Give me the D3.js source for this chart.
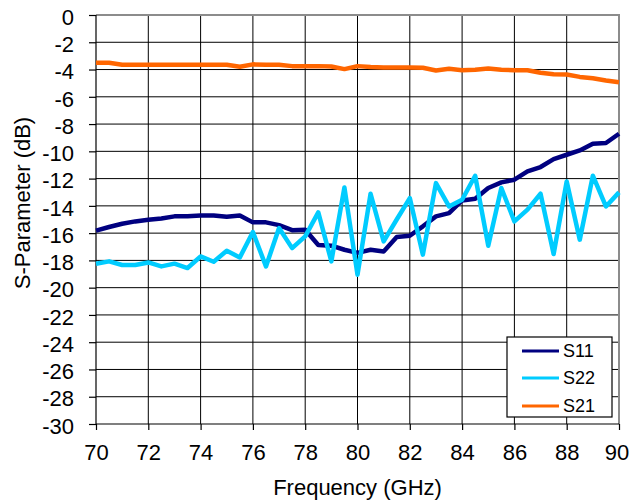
<!DOCTYPE html>
<html>
<head>
<meta charset="utf-8">
<script src="https://cdn.jsdelivr.net/npm/d3@7/dist/d3.min.js"></script>
<style>
  html, body { margin: 0; padding: 0; background: #fff; }
  svg { display: block; }
  text { font-family: "Liberation Sans", Arial, sans-serif; fill: #000; }
</style>
</head>
<body>
<svg id="chart" width="630" height="504"></svg>
<script>
const freq = [70,70.5,71,71.5,72,72.5,73,73.5,74,74.5,75,75.5,76,76.5,77,77.5,78,78.5,79,79.5,80,
              80.5,81,81.5,82,82.5,83,83.5,84,84.5,85,85.5,86,86.5,87,87.5,88,88.5,89,89.5,90];
const s11 = [-15.82,-15.55,-15.31,-15.14,-15.02,-14.92,-14.77,-14.77,-14.70,-14.70,-14.80,-14.70,-15.21,-15.21,-15.41,-15.78,-15.75,-16.87,-16.92,-17.22,-17.45,
             -17.22,-17.34,-16.29,-16.19,-15.50,-14.77,-14.53,-13.60,-13.48,-12.69,-12.28,-12.08,-11.47,-11.15,-10.57,-10.25,-9.93,-9.44,-9.39,-8.71];
const s22 = [-18.24,-18.07,-18.34,-18.34,-18.15,-18.44,-18.24,-18.56,-17.71,-18.10,-17.29,-17.78,-15.92,-18.44,-15.63,-17.10,-16.24,-14.48,-18.07,-12.65,-19.05,
             -13.11,-16.61,-15.00,-13.43,-17.58,-12.33,-14.04,-13.55,-11.79,-16.92,-12.69,-15.14,-14.28,-13.11,-17.53,-12.21,-16.48,-11.79,-14.04,-13.01];
const s21 = [-3.50,-3.50,-3.65,-3.65,-3.65,-3.65,-3.65,-3.65,-3.65,-3.65,-3.65,-3.80,-3.62,-3.65,-3.65,-3.75,-3.75,-3.75,-3.78,-3.97,-3.75,
             -3.82,-3.85,-3.85,-3.85,-3.87,-4.07,-3.95,-4.05,-4.02,-3.93,-4.02,-4.05,-4.05,-4.24,-4.34,-4.37,-4.54,-4.64,-4.80,-4.93];
const seriesNames = ["S11","S22","S21"];
const seriesColors = ["#000080","#00CCFF","#FF6600"];
const xTicks = [70,72,74,76,78,80,82,84,86,88,90];
const yTicks = [0,-2,-4,-6,-8,-10,-12,-14,-16,-18,-20,-22,-24,-26,-28,-30];
const xTitle = "Frequency (GHz)";
const yTitle = "S-Parameter (dB)";

const svg = d3.select("#chart");
const L = 96, R = 619, T = 15, B = 424;
const x = d3.scaleLinear().domain([70, 90]).range([L, R]);
const y = d3.scaleLinear().domain([-30, 0]).range([B, T]);

// gridlines
const g = svg.append("g");
g.selectAll("line.vg").data(xTicks.slice(1, -1)).enter().append("line")
  .attr("x1", d => x(d)).attr("x2", d => x(d)).attr("y1", T).attr("y2", B)
  .attr("stroke", "#000").attr("stroke-width", 1);
g.selectAll("line.hg").data(yTicks.slice(1, -1)).enter().append("line")
  .attr("x1", L).attr("x2", R).attr("y1", d => y(d)).attr("y2", d => y(d))
  .attr("stroke", "#000").attr("stroke-width", 1);

// gray top/right frame
svg.append("path")
  .attr("d", `M${L},${T}H${R}V${B}`)
  .attr("fill", "none").attr("stroke", "#8c8c8c").attr("stroke-width", 2);

// axes
const fmt = d => String(d);
const xAxis = d3.axisBottom(x).tickValues(xTicks).tickSize(6).tickPadding(14).tickFormat(fmt);
const yAxis = d3.axisLeft(y).tickValues(yTicks).tickSize(7).tickPadding(15).tickFormat(fmt);
const gx = svg.append("g").attr("transform", `translate(0,${B})`).call(xAxis);
const gy = svg.append("g").attr("transform", `translate(${L},0)`).call(yAxis);
[gx, gy].forEach(a => {
  a.select(".domain").attr("stroke", "#000").attr("stroke-width", 1.2);
  a.selectAll(".tick line").attr("stroke", "#000").attr("stroke-width", 1.2);
  a.selectAll(".tick text").style("font-family", '"Liberation Sans", Arial, sans-serif')
    .style("font-size", "22px").attr("fill", "#000");
});
gx.select(".domain").attr("d", `M${L},0H${R}`);
gy.select(".domain").attr("d", `M0,${T}V${B}`);
gy.selectAll(".tick text").attr("dy", "0.42em");
gx.selectAll(".tick text").filter(d => d === 90).attr("dx", -2.5);

// lines
const allSeries = [s11, s22, s21];
const line = d3.line().x((d, i) => x(freq[i])).y(d => y(d));
svg.append("g").selectAll("path").data(allSeries).enter().append("path")
  .attr("d", d => line(d))
  .attr("fill", "none")
  .attr("stroke", (d, i) => seriesColors[i])
  .attr("stroke-width", 4.5)
  .attr("stroke-linejoin", "round")
  .attr("stroke-linecap", "butt");

// titles
svg.append("text").attr("x", (L + R) / 2).attr("y", 495)
  .attr("text-anchor", "middle").style("font-size", "22px").text(xTitle);
svg.append("text").attr("transform", `translate(30,${203}) rotate(-90)`)
  .attr("text-anchor", "middle").style("font-size", "22px").text(yTitle);

// legend
const lg = svg.append("g");
lg.append("rect").attr("x", 507).attr("y", 337).attr("width", 105).attr("height", 80)
  .attr("fill", "#fff").attr("stroke", "#000").attr("stroke-width", 1.2);
const rowsY = [351, 378, 406];
seriesNames.forEach((n, i) => {
  lg.append("line").attr("x1", 522).attr("x2", 559).attr("y1", rowsY[i]).attr("y2", rowsY[i])
    .attr("stroke", seriesColors[i]).attr("stroke-width", 3);
  lg.append("text").attr("x", 563).attr("y", rowsY[i]).attr("dy", "0.36em")
    .style("font-size", "18px").text(n);
});
</script>
</body>
</html>
